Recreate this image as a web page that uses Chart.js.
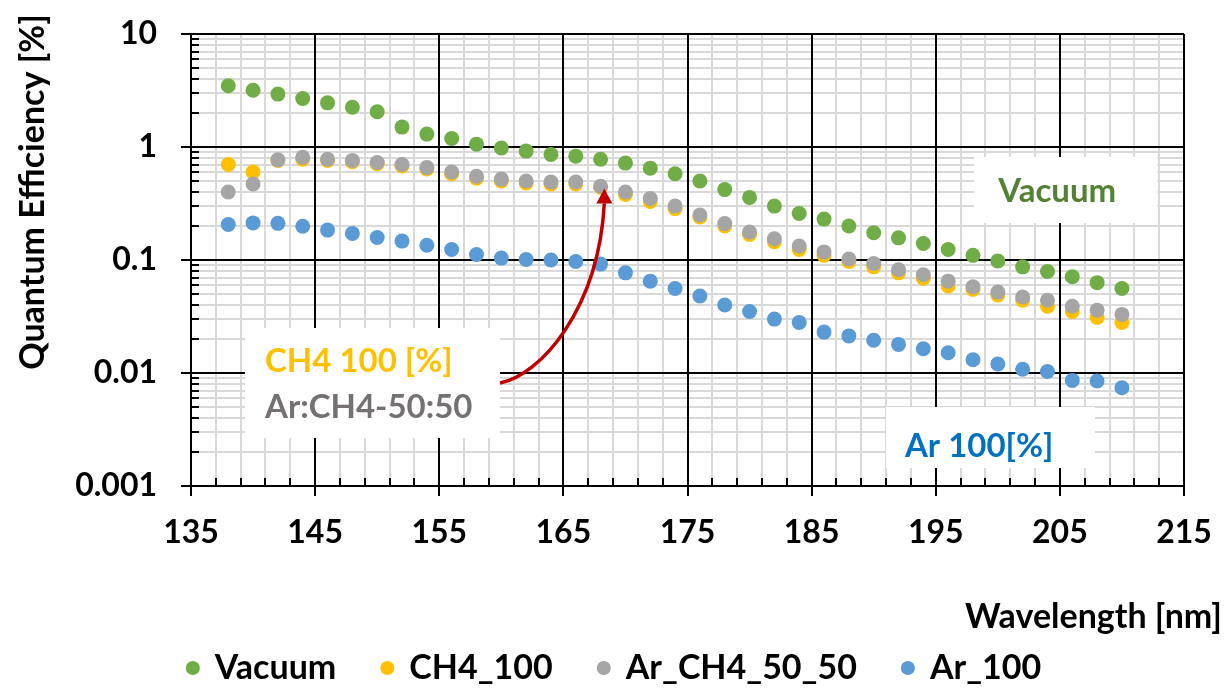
<!doctype html>
<html lang="en">
<head>
<meta charset="utf-8">
<title>Quantum Efficiency vs Wavelength</title>
<style>
  * { margin: 0; padding: 0; }
  body { background: #fff; }
  .chartBox { width: 1229px; height: 689px; }
</style>
</head>
<body>
<div class="chartBox"><canvas id="myChart"></canvas></div>

<script src="https://cdn.jsdelivr.net/npm/chart.js@4.4.0/dist/chart.umd.min.js"></script>
<script>
// data block
const wavelengths = [138, 140, 142, 144, 146, 148, 150, 152, 154, 156, 158, 160, 162, 164,
  166, 168, 170, 172, 174, 176, 178, 180, 182, 184, 186, 188, 190, 192, 194,
  196, 198, 200, 202, 204, 206, 208, 210];

const vacuum = [3.48, 3.18, 2.94, 2.69, 2.46, 2.25, 2.05, 1.50, 1.30, 1.19, 1.06, 0.98, 0.92, 0.86,
  0.83, 0.78, 0.72, 0.65, 0.58, 0.50, 0.42, 0.358, 0.30, 0.258, 0.230, 0.200, 0.174, 0.157, 0.140,
  0.124, 0.110, 0.098, 0.087, 0.079, 0.071, 0.063, 0.056];

const ch4_100 = [0.70, 0.60, 0.76, 0.78, 0.76, 0.74, 0.71, 0.68, 0.64, 0.58, 0.53, 0.50, 0.48, 0.47,
  0.47, 0.44, 0.38, 0.33, 0.285, 0.24, 0.20, 0.168, 0.145, 0.124, 0.11, 0.097, 0.087, 0.077, 0.069,
  0.059, 0.055, 0.049, 0.044, 0.039, 0.035, 0.031, 0.028];

const ar_ch4_50_50 = [0.40, 0.47, 0.77, 0.81, 0.78, 0.76, 0.73, 0.70, 0.66, 0.60, 0.55, 0.52, 0.50, 0.49,
  0.49, 0.45, 0.40, 0.35, 0.30, 0.25, 0.21, 0.177, 0.154, 0.133, 0.118, 0.102, 0.093, 0.082, 0.074,
  0.065, 0.058, 0.052, 0.047, 0.044, 0.039, 0.036, 0.033];

const ar_100 = [0.206, 0.213, 0.211, 0.199, 0.184, 0.172, 0.158, 0.147, 0.135, 0.124, 0.112, 0.104, 0.101, 0.100,
  0.097, 0.092, 0.077, 0.065, 0.056, 0.048, 0.040, 0.035, 0.030, 0.028, 0.023, 0.0213, 0.0195, 0.0179, 0.0164,
  0.0151, 0.0131, 0.0120, 0.0108, 0.0103, 0.0086, 0.0085, 0.0074];

// axis ticks
const xTickLabels = ['135', '145', '155', '165', '175', '185', '195', '205', '215'];
const yTickLabels = ['0.001', '0.01', '0.1', '1', '10'];

// grid positions: every 2 nm on x, 1..9 per decade on y
const xGridValues = [];
for (let v = 135; v <= 215; v += 2) xGridValues.push(v);
const yGridValues = [];
for (let e = -3; e < 1; e++) {
  for (let k = 1; k <= 9; k++) yGridValues.push(Number((k * Math.pow(10, e)).toPrecision(6)));
}
yGridValues.push(10);

const isDecade = v => Math.abs(Math.log10(v) - Math.round(Math.log10(v))) < 1e-9;
const isMajorX = v => Math.abs((v - 135) % 10) < 1e-9;

const FONT = 'Lato';
const boldFont = size => ({ family: FONT, weight: 'bold', size: size });

const toPoints = values => values.map((v, i) => ({ x: wavelengths[i], y: v }));

const series = (label, values, color, order) => ({
  label: label,
  data: toPoints(values),
  backgroundColor: color,
  borderColor: color,
  pointBackgroundColor: color,
  pointBorderWidth: 0,
  pointRadius: 7.5,
  order: order
});

const data = {
  datasets: [
    series('Vacuum', vacuum, '#70AD47', 0),
    series('CH4_100', ch4_100, '#FFC000', 1),
    series('Ar_CH4_50_50', ar_ch4_50_50, '#A5A5A5', 0),
    series('Ar_100', ar_100, '#5B9BD5', 0)
  ]
};

// text boxes and arrow, anchored in data space
const notes = {
  vacuum: { x: 198.1, y: 0.815, w: 183, h: 66 },
  gases: { x: 139.35, y: 0.025, w: 255, h: 110 },
  argon: { x: 190.99, y: 0.0050, w: 209, h: 61 },
  arrowFrom: { x: 159.9, y: 0.00815 },
  arrowTo: { x: 168.3, y: 0.43 }
};

// decorations plugin block
const decorations = {
  id: 'decorations',
  beforeDatasetsDraw(chart) {
    const { ctx, chartArea: { left, right, top, bottom }, scales: { x, y } } = chart;
    ctx.save();
    ctx.strokeStyle = '#000';
    ctx.lineWidth = 2;
    ctx.beginPath();
    // keep the black major lines on top of the light minor ones
    yGridValues.forEach(v => {
      const py = Math.round(y.getPixelForValue(v));
      if (isDecade(v)) {
        ctx.moveTo(left, py);
        ctx.lineTo(right, py);
      } else {
        ctx.moveTo(left, py);
        ctx.lineTo(left + 8, py);
      }
    });
    xGridValues.forEach(v => {
      const px = Math.round(x.getPixelForValue(v));
      if (isMajorX(v)) {
        ctx.moveTo(px, top);
        ctx.lineTo(px, bottom);
      } else {
        ctx.moveTo(px, bottom);
        ctx.lineTo(px, bottom - 8);
      }
    });
    ctx.stroke();
    ctx.restore();
  },
  afterDraw(chart) {
    const { ctx, chartArea: { left, top, right }, scales: { x, y } } = chart;
    const at = p => ({ px: x.getPixelForValue(p.x), py: y.getPixelForValue(p.y) });

    ctx.save();
    ctx.font = 'bold 34px ' + FONT;

    // axis titles
    ctx.fillStyle = '#000';
    ctx.save();
    ctx.translate(left - 158, top + 158);
    ctx.rotate(-Math.PI / 2);
    ctx.textAlign = 'center';
    ctx.textBaseline = 'middle';
    ctx.fillText('Quantum Efficiency [%]', 0, 0);
    ctx.restore();
    ctx.textAlign = 'right';
    ctx.textBaseline = 'alphabetic';
    ctx.fillText('Wavelength [nm]', right + 38, 628);

    // white label boxes
    const drawBox = n => {
      const { px, py } = at(n);
      ctx.fillStyle = '#fff';
      ctx.fillRect(px, py, n.w, n.h);
      return { px, py };
    };

    ctx.font = 'bold 33px ' + FONT;
    let b = drawBox(notes.vacuum);
    ctx.textAlign = 'center';
    ctx.fillStyle = '#548235';
    ctx.fillText('Vacuum', b.px + 83, b.py + 45);

    b = drawBox(notes.gases);
    ctx.textAlign = 'left';
    ctx.fillStyle = '#FFC000';
    ctx.fillText('CH4 100 [%]', b.px + 20, b.py + 44);
    ctx.fillStyle = '#767171';
    ctx.fillText('Ar:CH4-50:50', b.px + 20, b.py + 90);

    b = drawBox(notes.argon);
    ctx.fillStyle = '#0070C0';
    ctx.fillText('Ar 100[%]', b.px + 19, b.py + 50);

    // curved arrow
    const s = at(notes.arrowFrom);
    const t = at(notes.arrowTo);
    const headLen = 15;
    ctx.strokeStyle = '#C00000';
    ctx.fillStyle = '#C00000';
    ctx.lineWidth = 3.5;
    ctx.beginPath();
    ctx.moveTo(s.px, s.py);
    ctx.bezierCurveTo(s.px + 40, s.py - 8, t.px - 6, t.py + 122, t.px, t.py + headLen);
    ctx.stroke();
    ctx.beginPath();
    ctx.moveTo(t.px, t.py);
    ctx.lineTo(t.px - 8, t.py + headLen);
    ctx.lineTo(t.px + 8, t.py + headLen);
    ctx.closePath();
    ctx.fill();

    ctx.restore();
  }
};

// config block
const config = {
  type: 'scatter',
  data: data,
  options: {
    responsive: true,
    maintainAspectRatio: false,
    animation: false,
    events: [],
    layout: { padding: { left: 45, right: 45, top: 34, bottom: -6 } },
    scales: {
      x: {
        type: 'linear',
        min: 135,
        max: 215,
        afterFit: s => { s.height = 119; },
        afterBuildTicks: s => { s.ticks = xGridValues.map(v => ({ value: v })); },
        ticks: {
          autoSkip: false,
          maxRotation: 0,
          padding: 17,
          color: '#000',
          font: boldFont(32),
          callback: v => isMajorX(v) ? xTickLabels[Math.round((v - 135) / 10)] : ''
        },
        grid: {
          color: c => isMajorX(c.tick.value) ? '#000' : '#d9d9d9',
          tickColor: c => isMajorX(c.tick.value) ? '#000' : 'rgba(0,0,0,0)',
          lineWidth: 2,
          tickLength: 10
        },
        border: { color: '#000', width: 2 }
      },
      y: {
        type: 'logarithmic',
        min: 0.001,
        max: 10,
        afterFit: s => {
          s.width = 146;
          s.paddingTop = 0;
          s.paddingBottom = 0;
        },
        afterBuildTicks: s => { s.ticks = yGridValues.map(v => ({ value: v })); },
        ticks: {
          autoSkip: false,
          padding: 24,
          color: '#000',
          font: boldFont(32),
          callback: v => isDecade(v) ? yTickLabels[Math.round(Math.log10(v)) + 3] : ''
        },
        grid: {
          color: c => isDecade(c.tick.value) ? '#000' : '#d9d9d9',
          tickColor: c => isDecade(c.tick.value) ? '#000' : 'rgba(0,0,0,0)',
          lineWidth: 2,
          tickLength: 10
        },
        border: { color: '#000', width: 2 }
      }
    },
    plugins: {
      tooltip: { enabled: false },
      legend: {
        position: 'bottom',
        labels: {
          usePointStyle: true,
          pointStyle: 'circle',
          boxWidth: 10,
          boxHeight: 10,
          padding: 46,
          color: '#000',
          font: boldFont(34),
          sort: (a, b) => a.datasetIndex - b.datasetIndex
        }
      }
    }
  },
  plugins: [decorations]
};

// init render block
const myChart = new Chart(
  document.getElementById('myChart'),
  config
);
</script>
</body>
</html>
